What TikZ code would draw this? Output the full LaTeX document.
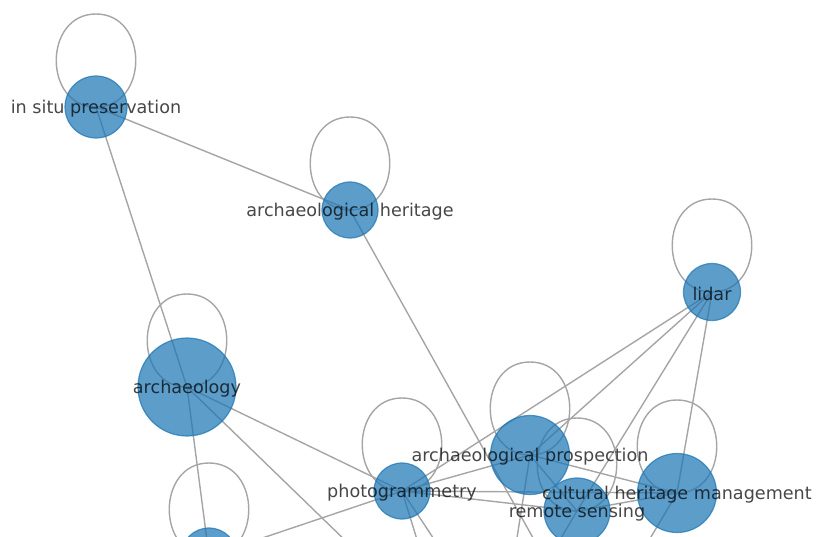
\documentclass[tikz,border=0pt]{standalone}
\usepackage{fontspec}
\setmainfont{DejaVu Sans}
\usepackage{tikz}
\usetikzlibrary{calc,backgrounds}
\definecolor{nodeblue}{HTML}{1F77B4}
\definecolor{edgegray}{RGB}{165,165,165}

\begin{document}
\begin{tikzpicture}[x=1pt,y=1pt,semithick]
\tikzstyle{every node}=[]
\tikzstyle{term}=[circle,inner sep=0pt,fill=nodeblue,fill opacity=0.72,
                  draw=nodeblue,draw opacity=0.75,line width=1.2pt]
\tikzstyle{lbl}=[inner sep=0pt,yshift=-1.5pt,text=black,text opacity=0.72,
                 font=\fontsize{17.6}{20}\selectfont]
\tikzstyle{link}=[draw=edgegray,line width=1.4pt]
\useasboundingbox (0,0) rectangle (816,536);
\clip (0,0) rectangle (816,536);

\node (ISP) [term,minimum size=62] at (96,429) {};
\node (AH) [term,minimum size=56] at (350,326) {};
\node (LID) [term,minimum size=57] at (712,244) {};
\node (ARC) [term,minimum size=98] at (187,149) {};
\node (PHO) [term,minimum size=56] at (402,45) {};
\node (APR) [term,minimum size=79] at (530,81) {};
\node (RS) [term,minimum size=66] at (577,25) {};
\node (CHM) [term,minimum size=79] at (677,43) {};
\node (BL) [term,minimum size=56] at (209,-20) {};
% ends below the frame
\coordinate (OFFA) at (448,-104);
\coordinate (OFFB) at (501,-104);
\coordinate (OFFC) at (590,-104);

\begin{scope}[on background layer]
\clip (0,0) rectangle (816,536);
\path[link] (ISP.center) edge (AH.center) edge (ARC.center)
      (AH.center) edge (OFFC)
      (ARC.center) edge (PHO.center) edge (BL.center) edge (OFFA)
      (PHO.center) edge (LID.center) edge (APR.center) edge (RS.center)
                   edge (CHM.center) edge (BL.center) edge (OFFA) edge (OFFB)
      (APR.center) edge (LID.center) edge (CHM.center) edge (RS.center)
                   edge (OFFB)
      (LID.center) edge (RS.center) edge (CHM.center)
      (RS.center) edge (CHM.center) edge (OFFB)
      (CHM.center) edge (OFFC);
% self loops
\foreach \n in {ISP,AH,LID,ARC,PHO,APR,RS,CHM,BL}
  \draw[link] (\n.center) .. controls +(-53,0) and +(-53,0) .. ($(\n.center)+(0,93)$)
              .. controls +(53,0) and +(53,0) .. (\n.center);
\end{scope}

\foreach \n/\t in {ISP/in situ preservation,AH/archaeological heritage,
                   LID/lidar,ARC/archaeology,PHO/photogrammetry,
                   APR/archaeological prospection,CHM/cultural heritage management,
                   RS/remote sensing}
  \node (\n-lbl) [lbl] at (\n) {\t};
\end{tikzpicture}
\end{document}
